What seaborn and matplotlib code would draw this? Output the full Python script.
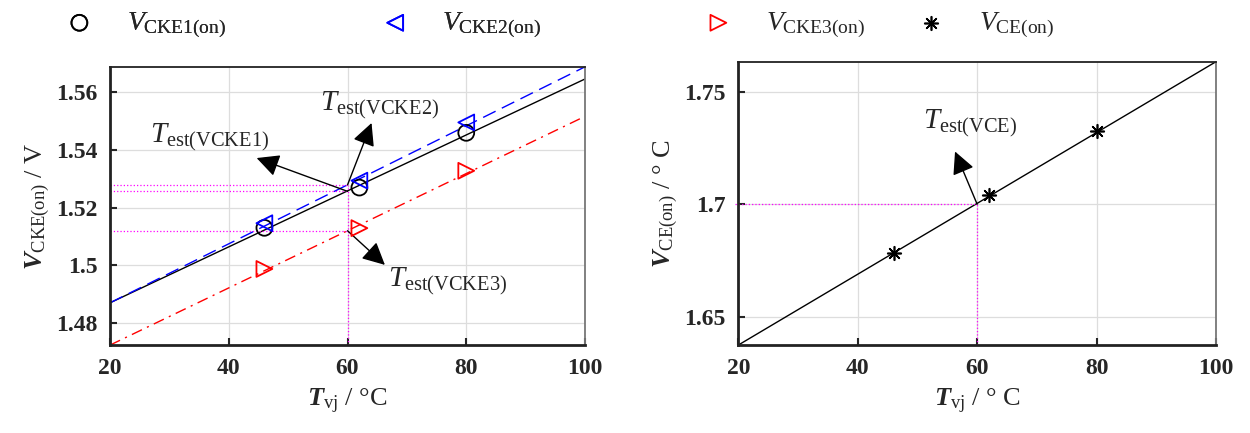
import numpy as np
import matplotlib
matplotlib.use("Agg")
import matplotlib.pyplot as plt
import seaborn as sns
from matplotlib.ticker import FuncFormatter

## Data

# measured points (junction temperature, degC)
temps = [46, 62, 80]
v_cke1 = [1.5130, 1.5269, 1.5458]
v_cke2 = [1.5146, 1.5293, 1.5494]
v_cke3 = [1.4988, 1.5129, 1.5327]
v_ce = [1.6785, 1.7041, 1.7323]

# fitted lines, read at the ends of the x range
fit_x = [20, 100]
fit_cke1 = [1.4871, 1.5644]
fit_cke2 = [1.4871, 1.5686]
fit_cke3 = [1.4725, 1.5515]
fit_ce = [1.6374, 1.7633]

# estimated temperature and the voltages at that point
t_est = 60
est_cke = [1.5278, 1.5256, 1.5120]   # VCKE2, VCKE1, VCKE3
est_ce = 1.7

## Style

sns.set_style("ticks")
plt.rcParams["font.family"] = ["Liberation Serif", "DejaVu Serif"]
plt.rcParams["mathtext.fontset"] = "custom"
plt.rcParams["mathtext.rm"] = "Liberation Serif"
plt.rcParams["mathtext.it"] = "Liberation Serif:italic"
plt.rcParams["mathtext.bf"] = "Liberation Serif:bold"
plt.rcParams["mathtext.bfit"] = "Liberation Serif:italic:bold"

fig = plt.figure(figsize=(12.5, 4.33), dpi=100)
ax1 = fig.add_axes([0.088, 0.203, 0.380, 0.642])
ax2 = fig.add_axes([0.5906, 0.203, 0.3822, 0.6545])

MAG = "#ff00ff"


def scatter(ax, y, **kw):
    # draw one marker series and hand back its collection for the legend
    sns.scatterplot(x=temps, y=y, s=130, linewidth=1.3, ax=ax, zorder=5, **kw)
    return ax.collections[-1]


## Left panel: VCKE

sns.lineplot(x=fit_x, y=fit_cke1, color="black", lw=1.0, ax=ax1)
sns.lineplot(x=fit_x, y=fit_cke2, color="blue", lw=1.0, linestyle=(0, (10, 5)), ax=ax1)
sns.lineplot(x=fit_x, y=fit_cke3, color="red", lw=1.0, linestyle=(0, (8, 4, 1.5, 4)), ax=ax1)

h_cke1 = scatter(ax1, v_cke1, marker="o", facecolor="none", edgecolor="black")
h_cke2 = scatter(ax1, v_cke2, marker="<", facecolor="none", edgecolor="blue")
h_cke3 = scatter(ax1, v_cke3, marker=">", facecolor="none", edgecolor="red")

for v in est_cke:
    ax1.plot([fit_x[0], t_est], [v, v], color=MAG, lw=0.9, ls=":")
ax1.plot([t_est, t_est], [1.4725, max(est_cke)], color=MAG, lw=0.9, ls=":")

arrow = dict(arrowstyle="-|>,head_length=0.6,head_width=0.3", color="black",
             lw=1.0, mutation_scale=23, shrinkA=0, shrinkB=0)
ax1.annotate("", xy=(44.7, 1.5371), xytext=(t_est, est_cke[1]), arrowprops=arrow)
ax1.annotate("", xy=(64.05, 1.5492), xytext=(t_est, est_cke[0]), arrowprops=arrow)
ax1.annotate("", xy=(66.3, 1.5002), xytext=(t_est, est_cke[2]), arrowprops=arrow)
ax1.text(26.7, 1.5441, r"$\mathit{T}_{\mathrm{est(VCKE1)}}$", fontsize=21, ha="left", va="center")
ax1.text(55.4, 1.5554, r"$\mathit{T}_{\mathrm{est(VCKE2)}}$", fontsize=21, ha="left", va="center")
ax1.text(66.8, 1.4945, r"$\mathit{T}_{\mathrm{est(VCKE3)}}$", fontsize=21, ha="left", va="center")

ax1.set_xlim(20, 100)
ax1.set_ylim(1.4725, 1.5685)
ax1.set_xticks([20, 40, 60, 80, 100])
ax1.set_yticks([1.48, 1.50, 1.52, 1.54, 1.56])
ax1.set_xlabel(r"$\mathbfit{T}_{\mathrm{vj}}$ / °C", fontsize=19, labelpad=6)
ax1.set_ylabel(r"$\mathbfit{V}_{\mathrm{CKE(on)}}$ / V", fontsize=19, labelpad=3)

## Right panel: VCE

sns.lineplot(x=fit_x, y=fit_ce, color="black", lw=1.0, ax=ax2)
h_ce = scatter(ax2, v_ce, marker=(8, 2, 0), color="black")
h_ce.set_sizes([95])
h_ce.set_linewidth(1.2)
ax2.plot([fit_x[0] - 0.6, t_est], [est_ce, est_ce], color=MAG, lw=0.9, ls=":", clip_on=False)
ax2.plot([t_est, t_est], [fit_ce[0], est_ce], color=MAG, lw=0.9, ls=":")
ax2.annotate("", xy=(56.3, 1.7234), xytext=(t_est, est_ce), arrowprops=arrow)
ax2.text(50.9, 1.736, r"$\mathit{T}_{\mathrm{est(VCE)}}$", fontsize=21, ha="left", va="center")

ax2.set_xlim(20, 100)
ax2.set_ylim(fit_ce[0], fit_ce[1])
ax2.set_xticks([20, 40, 60, 80, 100])
ax2.set_yticks([1.65, 1.70, 1.75])
ax2.set_xlabel(r"$\mathbfit{T}_{\mathrm{vj}}$ / ° C", fontsize=19, labelpad=6)
ax2.set_ylabel(r"$\mathbfit{V}_{\mathrm{CE(on)}}$ / ° C", fontsize=19, labelpad=3)

## Shared axis cosmetics

for ax in (ax1, ax2):
    ax.grid(True, color="#dddddd", lw=0.9)
    ax.set_axisbelow(True)
    ax.tick_params(direction="in", length=5, width=1.5, labelsize=17, pad=9)
    ax.yaxis.set_major_formatter(FuncFormatter(lambda v, p: f"{v:g}"))
    for lab in ax.get_xticklabels() + ax.get_yticklabels():
        lab.set_fontweight("bold")
    for side in ("left", "bottom"):
        ax.spines[side].set_linewidth(2.0)
        ax.spines[side].set_color("#222222")
    ax.spines["top"].set_linewidth(1.3)
    ax.spines["top"].set_color("#222222")
    ax.spines["right"].set_linewidth(1.3)
    ax.spines["right"].set_color("#777777")

## Legends on top

leg_kw = dict(loc="center left", ncol=2, frameon=False, fontsize=20,
              handlelength=1.0, handletextpad=1.2, borderpad=0, borderaxespad=0)
leg_left = fig.legend(
    [h_cke1, h_cke2],
    [r"$\mathit{V}_{\mathrm{CKE1(on)}}$", r"$\mathit{V}_{\mathrm{CKE2(on)}}$"],
    bbox_to_anchor=(0.0524, 0.942), columnspacing=5.6, **leg_kw,
)
fig.legend(
    [h_cke3, h_ce],
    [r"$\mathit{V}_{\mathrm{CKE3(on)}}$", r"$\mathit{V}_{\mathrm{CE(on)}}$"],
    bbox_to_anchor=(0.5636, 0.942), columnspacing=1.9, **leg_kw,
)
fig.add_artist(leg_left)

fig.savefig("out.png", dpi=100)
